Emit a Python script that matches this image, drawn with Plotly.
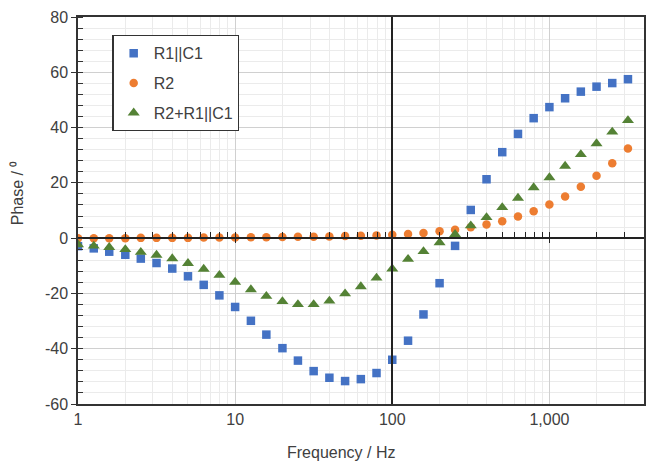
import math
import plotly.graph_objects as go

# ---------------- data ----------------
freq_hz = [1, 1.26, 1.58, 2, 2.51, 3.16, 3.98, 5.01, 6.31, 7.94,
           10, 12.6, 15.8, 20, 25.1, 31.6, 39.8, 50.1, 63.1, 79.4,
           100, 126, 158, 200, 251, 316, 398, 501, 631, 794,
           1000, 1259, 1585, 1995, 2512, 3162]

phase_r1c1 = [-2.9, -3.7, -4.9, -6.0, -7.4, -9.0, -11.0, -13.8, -16.9, -20.7,
              -24.9, -29.9, -34.9, -39.8, -44.3, -48.1, -50.5, -51.7, -51.0, -48.8,
              -44.0, -37.1, -27.6, -16.3, -2.8, 10.2, 21.3, 31.1, 37.7, 43.4,
              47.4, 50.6, 53.0, 54.8, 56.1, 57.5]

phase_r2 = [0.0, 0.0, 0.0, 0.0, 0.1, 0.1, 0.1, 0.1, 0.2, 0.2,
            0.2, 0.3, 0.3, 0.4, 0.5, 0.5, 0.6, 0.8, 0.9, 1.0,
            1.2, 1.5, 1.9, 2.5, 3.0, 3.9, 4.9, 6.1, 7.8, 9.7,
            12.2, 15.1, 18.6, 22.6, 27.1, 32.4]

phase_total = [-2.3, -2.8, -3.3, -4.1, -5.1, -6.1, -7.4, -9.1, -11.2, -13.4,
               -15.9, -18.6, -21.0, -22.9, -24.0, -24.0, -22.7, -20.1, -17.5, -14.4,
               -11.1, -7.6, -4.8, -1.6, 1.4, 4.5, 7.5, 11.1, 14.5, 18.3,
               21.9, 26.1, 30.3, 34.2, 38.4, 42.6]

series_names = ["R1||C1", "R2", "R2+R1||C1"]

x_tick_vals = [1, 10, 100, 1000]
x_tick_text = ["1", "10", "100", "1,000"]
y_tick_vals = [-60, -40, -20, 0, 20, 40, 60, 80]
y_tick_text = ["-60", "-40", "-20", "0", "20", "40", "60", "80"]

x_max = 4000
y_min, y_max = -60, 80

# ---------------- styling ----------------
FONT = "Liberation Sans, Arial, sans-serif"
TXT = "#404040"
BLUE, ORANGE, GREEN = "#4472C4", "#ED7D31", "#548235"
MAJ_GRID, MIN_GRID = "#d0d0d0", "#ebebeb"

minor_x = [m * d for d in (1, 10, 100, 1000) for m in range(2, 10) if m * d < x_max]
all_x_ticks = sorted(x_tick_vals + minor_x)
xr = [0, math.log10(x_max)]

fig = go.Figure()
fig.add_trace(go.Scatter(x=freq_hz, y=phase_r1c1, mode="markers", name=series_names[0],
                         legendgroup="a",
                         marker=dict(symbol="square", size=8.5, color=BLUE)))
fig.add_trace(go.Scatter(x=freq_hz, y=phase_r2, mode="markers", name=series_names[1],
                         legendgroup="b",
                         marker=dict(symbol="circle", size=8.5, color=ORANGE)))
fig.add_trace(go.Scatter(x=freq_hz, y=phase_total, mode="markers", name=series_names[2],
                         legendgroup="c",
                         marker=dict(symbol="triangle-up", size=10.5, color=GREEN)))

# helper (empty) traces so the overlay axes are drawn
fig.add_trace(go.Scatter(x=[], y=[], xaxis="x2", yaxis="y", showlegend=False, hoverinfo="skip"))
fig.add_trace(go.Scatter(x=[], y=[], xaxis="x3", yaxis="y", showlegend=False, hoverinfo="skip"))
fig.add_trace(go.Scatter(x=[], y=[], xaxis="x", yaxis="y2", showlegend=False, hoverinfo="skip"))

zero_pos = (0 - y_min) / (y_max - y_min)
hundred_pos = math.log10(100) / math.log10(x_max)

fig.update_layout(
    width=655, height=465,
    margin=dict(l=78, r=9, t=17, b=61),
    paper_bgcolor="white", plot_bgcolor="white",
    font=dict(family=FONT, color=TXT, size=16),
    showlegend=True,
    legend=dict(x=(112.5 - 78) / 568, y=(404 - 35) / 387, xanchor="left", yanchor="top",
                bordercolor="#333333", borderwidth=1.3, bgcolor="white",
                font=dict(family=FONT, size=16, color=TXT),
                tracegroupgap=6, itemwidth=30),
    xaxis=dict(type="log", range=xr, tickmode="array", tickvals=x_tick_vals,
               ticktext=x_tick_text, ticks="", showgrid=True, gridcolor=MAJ_GRID,
               gridwidth=1, showline=True, linecolor="#333333", linewidth=1.5,
               mirror=True, zeroline=False,
               tickfont=dict(size=16, color=TXT),
               minor=dict(tickmode="array", tickvals=minor_x, showgrid=True,
                          gridcolor=MIN_GRID, gridwidth=1, ticks="")),
    xaxis2=dict(type="log", range=xr, overlaying="x", anchor="free", position=zero_pos,
                tickmode="array", tickvals=all_x_ticks, ticks="inside", ticklen=5,
                tickcolor="#222222", tickwidth=1.3,
                showticklabels=False, showgrid=False, zeroline=False,
                showline=True, linecolor="#222222", linewidth=1.6),
    xaxis3=dict(type="log", range=xr, overlaying="x", anchor="free", position=zero_pos,
                tickmode="array", tickvals=x_tick_vals[1:], ticks="outside", ticklen=4,
                tickcolor="#222222", tickwidth=1.3,
                showticklabels=False, showgrid=False, zeroline=False, showline=False),
    yaxis=dict(range=[y_min, y_max], tickmode="array", tickvals=y_tick_vals,
               ticktext=y_tick_text, ticks="outside", ticklen=5, tickcolor="#333333",
               tickwidth=1.3, showgrid=True, gridcolor=MAJ_GRID, gridwidth=1,
               showline=True, linecolor="#333333", linewidth=1.5, mirror=True,
               zeroline=False, tickfont=dict(size=16, color=TXT),
               minor=dict(dtick=4, tick0=0, showgrid=True, gridcolor=MIN_GRID,
                          ticks="inside", ticklen=5, tickcolor="#333333", tickwidth=1.2)),
    yaxis2=dict(range=[y_min, y_max], overlaying="y", anchor="free", position=hundred_pos,
                showticklabels=False, ticks="", showgrid=False, zeroline=False,
                showline=True, linecolor="#222222", linewidth=1.6),
    annotations=[
        dict(text="Frequency / Hz", xref="paper", yref="paper",
             x=(342 - 78) / 568, y=(404 - 452) / 387, xanchor="center", yanchor="middle",
             showarrow=False, font=dict(family=FONT, size=16, color=TXT)),
        dict(text="Phase / \u2070", xref="paper", yref="paper",
             x=(18 - 78) / 568, y=(404 - 193) / 387, xanchor="center", yanchor="middle",
             textangle=-90, showarrow=False, font=dict(family=FONT, size=16, color=TXT)),
    ],
)

fig.write_html("out.html",
               config={"displayModeBar": False},
               post_script="document.body.style.margin='0px';document.body.style.padding='0px';")
